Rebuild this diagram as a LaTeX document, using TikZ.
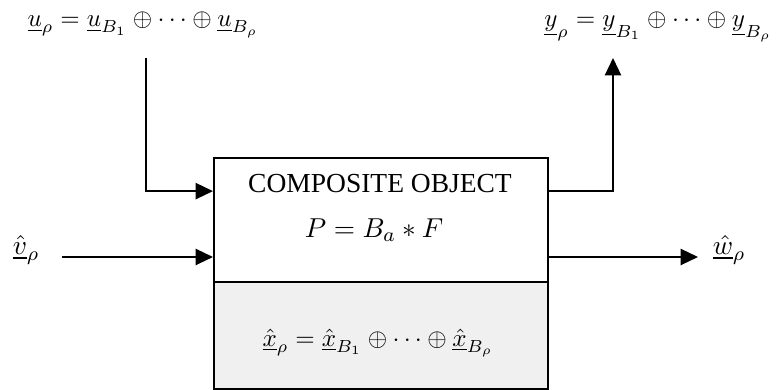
\documentclass[tikz,border=0pt]{standalone}
\usepackage{amsmath,amssymb}
\usepackage{fontspec}
\setmainfont{Liberation Serif}
\usetikzlibrary{arrows.meta,positioning}

\begin{document}
\begin{tikzpicture}[x=0.4pt, y=-0.4pt, font=\fontsize{11}{13}\selectfont, line width=0.8pt,
  sig/.style={-{Triangle[length=7pt,width=6.5pt]}},
  siglab/.style={font=\fontsize{10}{12}\selectfont},
  objbox/.style={draw, line width=0.9pt, inner sep=0pt, anchor=north west}]
  \useasboundingbox (0,0) rectangle (779,390);
  % Composite object: behaviour part and state part
  \node[objbox, minimum width=133.6pt, minimum height=49.6pt] (obj) at (213,157) {};
  \node[objbox, fill=gray!12, minimum width=133.6pt, minimum height=42.8pt] (state) at (213,281) {};
  \node (title) at (380,184) {COMPOSITE OBJECT};
  \node (eqP) at (374,230) {$P = B_a * F$};
  \node[siglab] (eqx) at (378,343) {$\underline{\hat{x}}_\rho = \underline{\hat{x}}_{B_1} \oplus \cdots \oplus \underline{\hat{x}}_{B_\rho}$};
  % Signal labels
  \node[siglab] (ulab) at (143,25) {$\underline{u}_\rho = \underline{u}_{B_1} \oplus \cdots \oplus \underline{u}_{B_\rho}$};
  \node[siglab] (ylab) at (658,27) {$\underline{y}_\rho = \underline{y}_{B_1} \oplus \cdots \oplus \underline{y}_{B_\rho}$};
  \node (vlab) at (26,250) {$\underline{\hat{v}}_\rho$};
  \node (wlab) at (729,250) {$\underline{\hat{w}}_\rho$};
  % Free ends of the connectors
  \coordinate (uin) at (146,58);
  \coordinate (vin) at (62,257);
  \coordinate (yout) at (613,58);
  \coordinate (wout) at (698,257);
  % Inputs
  \draw[sig] (uin) |- ([yshift=11.6pt]obj.west);
  \draw[sig] (vin) -- (vin -| obj.west);
  % Outputs
  \draw[sig] ([yshift=11.6pt]obj.east) -| (yout);
  \draw[sig] (wout -| obj.east) -- (wout);
\end{tikzpicture}
\end{document}
